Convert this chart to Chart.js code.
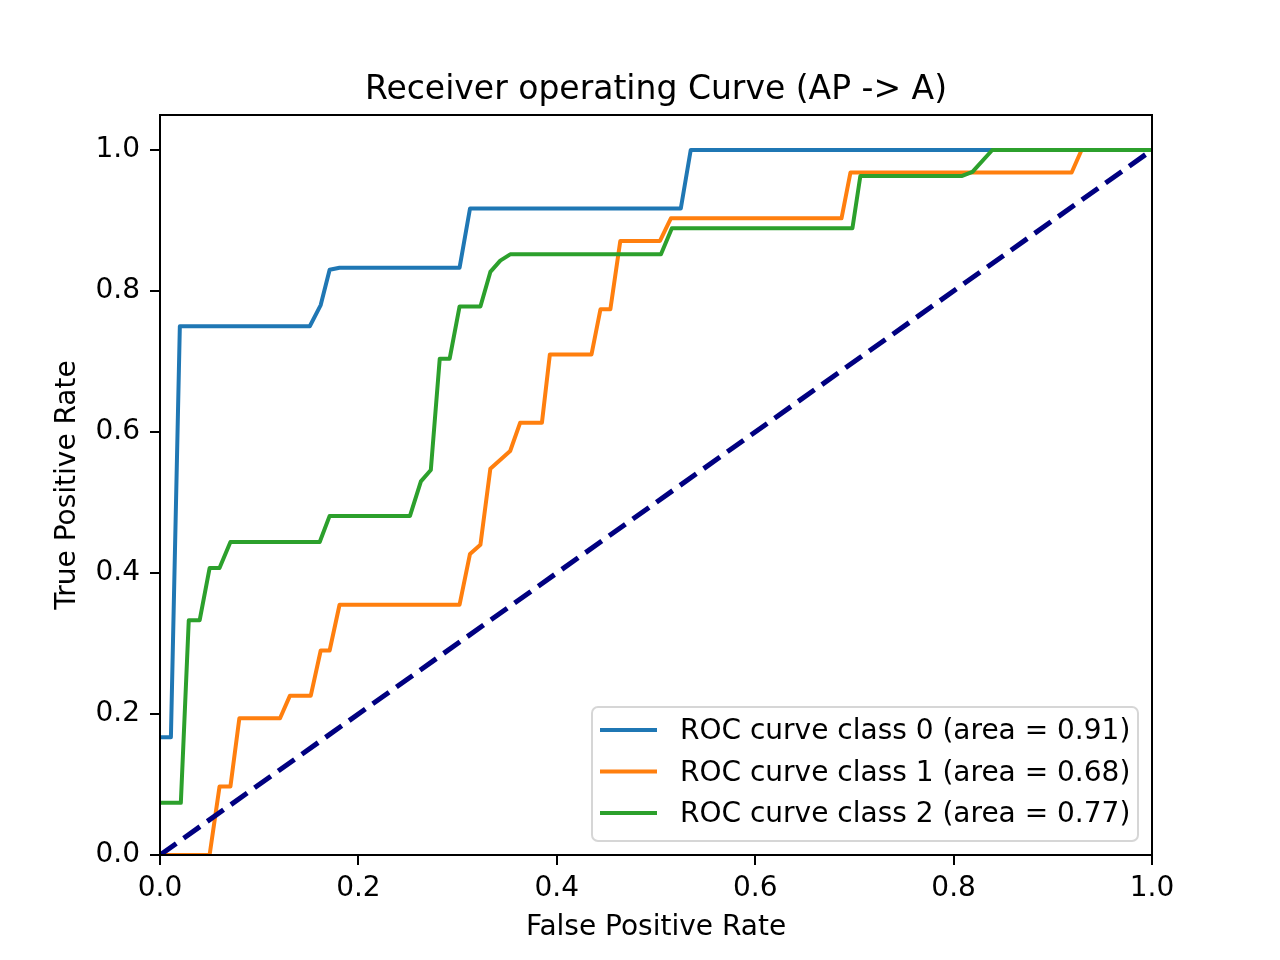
<!DOCTYPE html>
<html>
<head>
<meta charset="utf-8">
<title>ROC</title>
<script src="https://cdn.jsdelivr.net/npm/chart.js@4.4.1/dist/chart.umd.min.js"></script>
<style>
  html, body { margin: 0; padding: 0; background: #fff; }
  #wrap { width: 1280px; height: 960px; }
</style>
</head>
<body>
<div id="wrap"><canvas id="roc" width="1280" height="960"></canvas></div>
<script>
// dades llegides del gràfic
const fpr0 = [0, 0.011, 0.020, 0.151, 0.162, 0.171, 0.181, 0.302, 0.3125, 0.525, 0.535, 1.0];
const tpr0 = [0.167, 0.167, 0.750, 0.750, 0.780, 0.830, 0.833, 0.833, 0.917, 0.917, 1.0, 1.0];

const fpr1 = [0, 0.050, 0.060, 0.071, 0.080, 0.121, 0.131, 0.152, 0.162, 0.171, 0.181, 0.302, 0.3125, 0.323, 0.333,
              0.353, 0.363, 0.385, 0.393, 0.435, 0.444, 0.454, 0.464, 0.504, 0.515, 0.687, 0.696, 0.919, 0.929, 1.0];
const tpr1 = [0, 0, 0.097, 0.097, 0.194, 0.194, 0.226, 0.226, 0.290, 0.290, 0.355, 0.355, 0.427, 0.440, 0.548,
              0.573, 0.613, 0.613, 0.710, 0.710, 0.774, 0.774, 0.871, 0.871, 0.903, 0.903, 0.968, 0.968, 1.0, 1.0];

const fpr2 = [0, 0.021, 0.029, 0.040, 0.050, 0.060, 0.071, 0.161, 0.171, 0.252, 0.263, 0.273, 0.282, 0.292,
              0.302, 0.323, 0.333, 0.343, 0.353, 0.505, 0.516, 0.698, 0.706, 0.808, 0.819, 0.839, 1.0];
const tpr2 = [0.074, 0.074, 0.333, 0.333, 0.407, 0.407, 0.444, 0.444, 0.481, 0.481, 0.530, 0.546, 0.704, 0.704,
              0.778, 0.778, 0.827, 0.843, 0.852, 0.852, 0.889, 0.889, 0.963, 0.963, 0.969, 1.0, 1.0];

const diagX = [0, 1];
const diagY = [0, 1];

const seriesLabels = [
  'ROC curve class 0 (area = 0.91)',
  'ROC curve class 1 (area = 0.68)',
  'ROC curve class 2 (area = 0.77)'
];
const seriesColors = ['#1f77b4', '#ff7f0e', '#2ca02c'];
const xTicks = [0, 0.2, 0.4, 0.6, 0.8, 1.0];
const yTicks = [0, 0.2, 0.4, 0.6, 0.8, 1.0];

const FONT = '"DejaVu Sans", sans-serif';

function punts(xs, ys) {
  return xs.map((x, i) => ({ x: x, y: ys[i] }));
}

// el títol es centra sobre l'àrea del gràfic, no sobre tot el llenç
const titolCentrat = {
  id: 'titolCentrat',
  afterLayout(chart) {
    const t = chart.titleBlock;
    if (!t) return;
    t.left = chart.chartArea.left;
    t.right = chart.chartArea.right;
    t.width = t.right - t.left;
  }
};

// marc i llegenda dibuixats a sobre, com a matplotlib
const marcILlegenda = {
  id: 'marcILlegenda',
  afterDatasetsDraw(chart) {
    const ctx = chart.ctx;
    const a = chart.chartArea;
    ctx.save();
    ctx.strokeStyle = '#000';
    ctx.lineWidth = 2;
    ctx.strokeRect(a.left, a.top, a.right - a.left, a.bottom - a.top);

    // llegenda
    const bx = 592, by = 707, bw = 546, bh = 134, r = 6;
    ctx.beginPath();
    ctx.moveTo(bx + r, by);
    ctx.arcTo(bx + bw, by, bx + bw, by + bh, r);
    ctx.arcTo(bx + bw, by + bh, bx, by + bh, r);
    ctx.arcTo(bx, by + bh, bx, by, r);
    ctx.arcTo(bx, by, bx + bw, by, r);
    ctx.closePath();
    ctx.fillStyle = 'rgba(255,255,255,0.8)';
    ctx.fill();
    ctx.strokeStyle = 'rgba(204,204,204,0.8)';
    ctx.lineWidth = 2;
    ctx.stroke();

    ctx.font = '28px ' + FONT;
    ctx.textBaseline = 'middle';
    ctx.textAlign = 'left';
    seriesLabels.forEach((lab, i) => {
      const y = 730 + i * 41.5;
      ctx.beginPath();
      ctx.strokeStyle = seriesColors[i];
      ctx.lineWidth = 4;
      ctx.moveTo(600, y);
      ctx.lineTo(657, y);
      ctx.stroke();
      ctx.fillStyle = '#000';
      ctx.fillText(lab, 680, y + 2);
    });
    ctx.restore();
  }
};

const comu = { fill: false, tension: 0, pointRadius: 0, borderWidth: 4, borderJoinStyle: 'round', borderCapStyle: 'square' };

new Chart(document.getElementById('roc'), {
  type: 'line',
  data: {
    datasets: [
      Object.assign({ label: seriesLabels[0], data: punts(fpr0, tpr0), borderColor: seriesColors[0], order: 4 }, comu),
      Object.assign({ label: seriesLabels[1], data: punts(fpr1, tpr1), borderColor: seriesColors[1], order: 3 }, comu),
      Object.assign({ label: seriesLabels[2], data: punts(fpr2, tpr2), borderColor: seriesColors[2], order: 2 }, comu),
      { label: 'diag', data: punts(diagX, diagY), borderColor: '#000080', borderWidth: 5, borderDash: [20, 9],
        borderCapStyle: 'butt', pointRadius: 0, tension: 0, fill: false, order: 1 }
    ]
  },
  options: {
    responsive: false,
    animation: false,
    devicePixelRatio: 1,
    layout: { padding: { left: 0, right: 128, top: 0, bottom: 0 } },
    plugins: {
      legend: { display: false },
      tooltip: { enabled: false },
      title: {
        display: true,
        text: 'Receiver operating Curve (AP -> A)',
        color: '#000',
        font: { family: FONT, size: 33, weight: 'normal', lineHeight: 1.2 },
        padding: { top: 71, bottom: 4.4 }
      }
    },
    scales: {
      x: {
        type: 'linear',
        min: 0, max: 1,
        afterBuildTicks: s => { s.ticks = xTicks.map(v => ({ value: v })); },
        afterFit: s => { s.height = 105; },
        border: { display: false },
        grid: { drawOnChartArea: false, color: '#000', lineWidth: 2, tickLength: 10 },
        ticks: { color: '#000', font: { family: FONT, size: 28 }, padding: 7, maxRotation: 0,
                 callback: v => v.toFixed(1) },
        title: { display: true, text: 'False Positive Rate', color: '#000',
                 font: { family: FONT, size: 28, lineHeight: 1.2 }, padding: { top: 0, bottom: 15 } }
      },
      y: {
        type: 'linear',
        min: 0, max: 1.0496,
        afterBuildTicks: s => { s.ticks = yTicks.map(v => ({ value: v })); },
        afterFit: s => { s.width = 160; },
        border: { display: false },
        grid: { drawOnChartArea: false, color: '#000', lineWidth: 2, tickLength: 10 },
        ticks: { color: '#000', font: { family: FONT, size: 28 }, padding: 10,
                 callback: v => v.toFixed(1) },
        title: { display: true, text: 'True Positive Rate', color: '#000',
                 font: { family: FONT, size: 28, lineHeight: 1.2 }, padding: { top: 51, bottom: 0 } }
      }
    }
  },
  plugins: [titolCentrat, marcILlegenda]
});
</script>
</body>
</html>
